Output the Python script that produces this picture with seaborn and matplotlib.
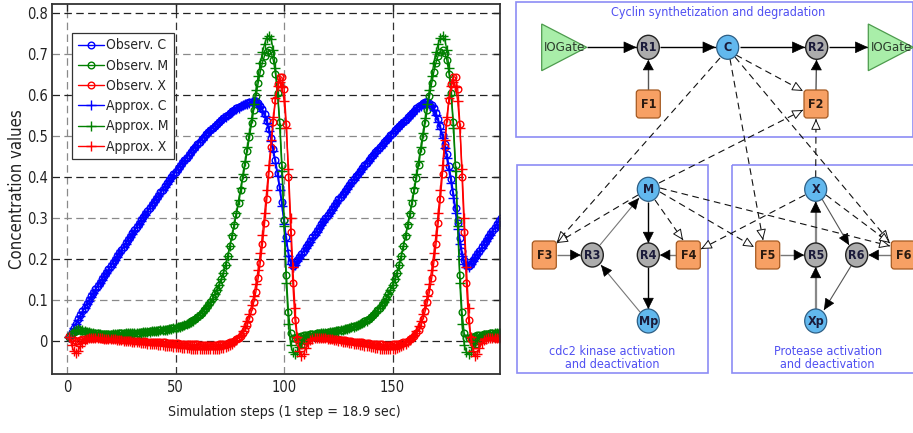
import matplotlib
matplotlib.use("Agg")
import matplotlib.pyplot as plt
import seaborn as sns
import numpy as np
from matplotlib.patches import Ellipse, FancyBboxPatch, Polygon, Rectangle

# ---------------- data ----------------
steps = list(range(1, 201))

C_obs = [0.010, 0.021, 0.032, 0.042, 0.052, 0.062, 0.072, 0.081, 0.090, 0.099,
         0.108, 0.117, 0.126, 0.134, 0.142, 0.150, 0.158, 0.166, 0.174, 0.182,
         0.190, 0.198, 0.206, 0.214, 0.222, 0.230, 0.238, 0.246, 0.254, 0.262,
         0.270, 0.278, 0.286, 0.294, 0.302, 0.309, 0.317, 0.324, 0.332, 0.339,
         0.347, 0.354, 0.362, 0.369, 0.377, 0.384, 0.392, 0.399, 0.406, 0.413,
         0.420, 0.427, 0.434, 0.441, 0.447, 0.454, 0.461, 0.467, 0.474, 0.480,
         0.486, 0.492, 0.498, 0.504, 0.510, 0.515, 0.520, 0.525, 0.530, 0.535,
         0.540, 0.544, 0.548, 0.552, 0.556, 0.560, 0.564, 0.567, 0.570, 0.573,
         0.576, 0.578, 0.580, 0.582, 0.583, 0.584, 0.584, 0.580, 0.574, 0.565,
         0.553, 0.537, 0.517, 0.494, 0.468, 0.440, 0.410, 0.376, 0.338, 0.295,
         0.252, 0.215, 0.192, 0.183, 0.188, 0.196, 0.204, 0.212, 0.220, 0.228,
         0.236, 0.244, 0.252, 0.260, 0.268, 0.276, 0.284, 0.292, 0.300, 0.307,
         0.315, 0.322, 0.330, 0.337, 0.345, 0.352, 0.359, 0.366, 0.373, 0.380,
         0.387, 0.394, 0.401, 0.408, 0.415, 0.422, 0.428, 0.435, 0.441, 0.448,
         0.454, 0.460, 0.466, 0.472, 0.478, 0.484, 0.490, 0.496, 0.502, 0.508,
         0.514, 0.520, 0.525, 0.530, 0.535, 0.540, 0.545, 0.550, 0.556, 0.562,
         0.567, 0.572, 0.576, 0.580, 0.582, 0.583, 0.581, 0.576, 0.568, 0.556,
         0.541, 0.523, 0.503, 0.480, 0.455, 0.427, 0.396, 0.362, 0.325, 0.287,
         0.250, 0.218, 0.196, 0.185, 0.183, 0.188, 0.196, 0.204, 0.212, 0.220,
         0.228, 0.236, 0.244, 0.252, 0.260, 0.268, 0.276, 0.284, 0.292, 0.300]

M_obs = [0.010, 0.016, 0.021, 0.024, 0.025, 0.025, 0.024, 0.023, 0.022, 0.021,
         0.020, 0.019, 0.018, 0.018, 0.017, 0.017, 0.017, 0.017, 0.017, 0.017,
         0.017, 0.017, 0.017, 0.018, 0.018, 0.018, 0.018, 0.019, 0.019, 0.019,
         0.020, 0.020, 0.020, 0.021, 0.021, 0.022, 0.022, 0.023, 0.023, 0.024,
         0.024, 0.025, 0.026, 0.026, 0.027, 0.028, 0.029, 0.030, 0.031, 0.032,
         0.034, 0.035, 0.037, 0.039, 0.041, 0.044, 0.047, 0.050, 0.054, 0.058,
         0.063, 0.068, 0.074, 0.080, 0.087, 0.095, 0.104, 0.114, 0.125, 0.137,
         0.150, 0.166, 0.185, 0.207, 0.231, 0.256, 0.282, 0.309, 0.337, 0.367,
         0.398, 0.430, 0.463, 0.497, 0.531, 0.564, 0.597, 0.628, 0.656, 0.679,
         0.696, 0.706, 0.709, 0.703, 0.685, 0.652, 0.605, 0.535, 0.430, 0.295,
         0.160, 0.070, 0.018, 0.006, 0.006, 0.008, 0.010, 0.012, 0.013, 0.014,
         0.015, 0.016, 0.016, 0.017, 0.018, 0.018, 0.019, 0.019, 0.020, 0.021,
         0.022, 0.022, 0.023, 0.024, 0.025, 0.026, 0.027, 0.029, 0.030, 0.032,
         0.034, 0.035, 0.037, 0.039, 0.041, 0.044, 0.047, 0.050, 0.054, 0.058,
         0.063, 0.068, 0.074, 0.080, 0.087, 0.095, 0.104, 0.114, 0.125, 0.137,
         0.150, 0.166, 0.185, 0.207, 0.231, 0.256, 0.282, 0.309, 0.337, 0.367,
         0.398, 0.430, 0.463, 0.497, 0.531, 0.564, 0.597, 0.628, 0.656, 0.679,
         0.696, 0.706, 0.709, 0.703, 0.685, 0.652, 0.605, 0.535, 0.430, 0.295,
         0.160, 0.070, 0.018, 0.006, 0.006, 0.008, 0.010, 0.012, 0.013, 0.014,
         0.015, 0.016, 0.016, 0.017, 0.018, 0.018, 0.019, 0.019, 0.020, 0.021]

X_obs = [0.012, 0.006, 0.001, -0.001, 0.000, 0.002, 0.004, 0.005, 0.006, 0.006,
         0.006, 0.006, 0.006, 0.006, 0.006, 0.005, 0.005, 0.005, 0.004, 0.004,
         0.004, 0.003, 0.003, 0.003, 0.002, 0.002, 0.002, 0.001, 0.001, 0.001,
         0.000, 0.000, 0.000, -0.001, -0.001, -0.001, -0.002, -0.002, -0.002, -0.003,
         -0.003, -0.003, -0.004, -0.004, -0.004, -0.005, -0.005, -0.005, -0.006, -0.006,
         -0.006, -0.007, -0.007, -0.007, -0.008, -0.008, -0.008, -0.009, -0.009, -0.009,
         -0.010, -0.010, -0.010, -0.010, -0.010, -0.010, -0.010, -0.010, -0.010, -0.009,
         -0.009, -0.008, -0.007, -0.006, -0.004, -0.002, 0.000, 0.003, 0.007, 0.012,
         0.018, 0.027, 0.039, 0.054, 0.072, 0.094, 0.120, 0.152, 0.190, 0.235,
         0.287, 0.345, 0.408, 0.473, 0.535, 0.588, 0.626, 0.645, 0.643, 0.615,
         0.530, 0.400, 0.265, 0.140, 0.050, 0.005, -0.006, -0.010, -0.007, -0.001,
         0.004, 0.007, 0.008, 0.008, 0.008, 0.008, 0.007, 0.007, 0.006, 0.006,
         0.005, 0.005, 0.004, 0.004, 0.003, 0.002, 0.002, 0.001, 0.000, 0.000,
         -0.001, -0.002, -0.002, -0.003, -0.004, -0.004, -0.005, -0.006, -0.006, -0.007,
         -0.007, -0.008, -0.008, -0.009, -0.009, -0.010, -0.010, -0.010, -0.010, -0.009,
         -0.009, -0.008, -0.007, -0.006, -0.004, -0.002, 0.000, 0.003, 0.007, 0.012,
         0.018, 0.027, 0.039, 0.054, 0.072, 0.094, 0.120, 0.152, 0.190, 0.235,
         0.287, 0.345, 0.408, 0.473, 0.535, 0.588, 0.626, 0.645, 0.643, 0.615,
         0.530, 0.400, 0.265, 0.140, 0.050, 0.005, -0.006, -0.010, -0.007, -0.001,
         0.004, 0.007, 0.008, 0.008, 0.008, 0.008, 0.007, 0.007, 0.006, 0.006]

C_apx = [0.010, 0.020, 0.031, 0.041, 0.051, 0.061, 0.071, 0.080, 0.089, 0.098,
         0.107, 0.116, 0.125, 0.133, 0.141, 0.149, 0.157, 0.165, 0.173, 0.181,
         0.189, 0.197, 0.205, 0.213, 0.221, 0.229, 0.237, 0.245, 0.253, 0.261,
         0.269, 0.277, 0.285, 0.293, 0.301, 0.308, 0.316, 0.323, 0.331, 0.338,
         0.346, 0.353, 0.361, 0.368, 0.376, 0.383, 0.391, 0.398, 0.405, 0.412,
         0.419, 0.426, 0.433, 0.440, 0.446, 0.453, 0.460, 0.466, 0.473, 0.479,
         0.485, 0.491, 0.497, 0.503, 0.509, 0.514, 0.519, 0.524, 0.529, 0.534,
         0.539, 0.543, 0.547, 0.551, 0.555, 0.559, 0.563, 0.566, 0.569, 0.572,
         0.575, 0.577, 0.579, 0.581, 0.582, 0.583, 0.582, 0.578, 0.571, 0.561,
         0.548, 0.531, 0.511, 0.488, 0.462, 0.433, 0.402, 0.367, 0.328, 0.285,
         0.243, 0.208, 0.187, 0.180, 0.186, 0.194, 0.202, 0.210, 0.218, 0.226,
         0.234, 0.242, 0.250, 0.258, 0.266, 0.274, 0.282, 0.290, 0.298, 0.305,
         0.313, 0.320, 0.328, 0.335, 0.343, 0.350, 0.357, 0.364, 0.371, 0.378,
         0.385, 0.392, 0.399, 0.406, 0.413, 0.420, 0.426, 0.433, 0.439, 0.446,
         0.452, 0.458, 0.464, 0.470, 0.476, 0.482, 0.488, 0.494, 0.500, 0.506,
         0.512, 0.518, 0.523, 0.528, 0.533, 0.538, 0.543, 0.548, 0.554, 0.560,
         0.565, 0.570, 0.574, 0.578, 0.580, 0.581, 0.579, 0.573, 0.564, 0.551,
         0.535, 0.516, 0.495, 0.471, 0.445, 0.416, 0.384, 0.349, 0.311, 0.272,
         0.236, 0.207, 0.188, 0.180, 0.181, 0.187, 0.195, 0.203, 0.211, 0.219,
         0.227, 0.235, 0.243, 0.251, 0.259, 0.267, 0.275, 0.283, 0.291, 0.299]

M_apx = [0.010, 0.018, 0.024, 0.027, 0.028, 0.027, 0.026, 0.024, 0.022, 0.021,
         0.019, 0.018, 0.017, 0.016, 0.016, 0.015, 0.015, 0.015, 0.015, 0.015,
         0.016, 0.016, 0.016, 0.017, 0.017, 0.017, 0.018, 0.018, 0.018, 0.019,
         0.019, 0.019, 0.020, 0.020, 0.021, 0.021, 0.022, 0.022, 0.023, 0.023,
         0.024, 0.024, 0.025, 0.026, 0.026, 0.027, 0.028, 0.029, 0.030, 0.031,
         0.033, 0.034, 0.036, 0.038, 0.040, 0.043, 0.046, 0.049, 0.053, 0.057,
         0.062, 0.067, 0.073, 0.079, 0.086, 0.094, 0.103, 0.113, 0.124, 0.136,
         0.150, 0.166, 0.185, 0.207, 0.232, 0.258, 0.285, 0.313, 0.343, 0.374,
         0.406, 0.439, 0.473, 0.508, 0.543, 0.578, 0.613, 0.646, 0.677, 0.704,
         0.725, 0.740, 0.745, 0.736, 0.710, 0.665, 0.600, 0.520, 0.415, 0.280,
         0.140, 0.040, -0.010, -0.028, -0.033, -0.027, -0.016, -0.006, 0.002, 0.008,
         0.011, 0.013, 0.014, 0.015, 0.016, 0.017, 0.018, 0.018, 0.019, 0.020,
         0.021, 0.021, 0.022, 0.023, 0.024, 0.025, 0.026, 0.028, 0.029, 0.031,
         0.033, 0.034, 0.036, 0.038, 0.040, 0.043, 0.046, 0.049, 0.053, 0.057,
         0.062, 0.067, 0.073, 0.079, 0.086, 0.094, 0.103, 0.113, 0.124, 0.136,
         0.150, 0.166, 0.185, 0.207, 0.232, 0.258, 0.285, 0.313, 0.343, 0.374,
         0.406, 0.439, 0.473, 0.508, 0.543, 0.578, 0.613, 0.646, 0.677, 0.704,
         0.725, 0.740, 0.745, 0.736, 0.710, 0.665, 0.600, 0.520, 0.415, 0.280,
         0.140, 0.040, -0.010, -0.028, -0.033, -0.027, -0.016, -0.006, 0.002, 0.008,
         0.011, 0.013, 0.014, 0.015, 0.016, 0.017, 0.018, 0.018, 0.019, 0.020]

X_apx = [0.010, -0.010, -0.025, -0.031, -0.025, -0.014, -0.005, 0.001, 0.004, 0.006,
         0.007, 0.007, 0.007, 0.007, 0.006, 0.006, 0.005, 0.005, 0.004, 0.004,
         0.003, 0.003, 0.002, 0.002, 0.001, 0.000, 0.000, -0.001, -0.001, -0.002,
         -0.003, -0.003, -0.004, -0.005, -0.005, -0.006, -0.007, -0.007, -0.008, -0.009,
         -0.009, -0.010, -0.011, -0.011, -0.012, -0.013, -0.013, -0.014, -0.015, -0.015,
         -0.016, -0.016, -0.017, -0.017, -0.018, -0.018, -0.019, -0.019, -0.020, -0.020,
         -0.020, -0.021, -0.021, -0.021, -0.021, -0.021, -0.021, -0.020, -0.020, -0.019,
         -0.018, -0.017, -0.015, -0.013, -0.010, -0.007, -0.003, 0.002, 0.008, 0.015,
         0.024, 0.035, 0.049, 0.066, 0.086, 0.110, 0.139, 0.173, 0.213, 0.259,
         0.311, 0.368, 0.428, 0.489, 0.545, 0.592, 0.623, 0.632, 0.620, 0.585,
         0.520, 0.420, 0.300, 0.180, 0.080, 0.010, -0.025, -0.038, -0.032, -0.018,
         -0.006, 0.002, 0.005, 0.007, 0.007, 0.007, 0.007, 0.006, 0.006, 0.005,
         0.004, 0.003, 0.002, 0.001, 0.000, -0.001, -0.002, -0.003, -0.004, -0.005,
         -0.006, -0.007, -0.008, -0.009, -0.010, -0.011, -0.012, -0.013, -0.014, -0.015,
         -0.016, -0.017, -0.018, -0.019, -0.020, -0.020, -0.021, -0.021, -0.021, -0.020,
         -0.019, -0.018, -0.015, -0.013, -0.010, -0.007, -0.003, 0.002, 0.008, 0.015,
         0.024, 0.035, 0.049, 0.066, 0.086, 0.110, 0.139, 0.173, 0.213, 0.259,
         0.311, 0.368, 0.428, 0.489, 0.545, 0.592, 0.623, 0.632, 0.620, 0.585,
         0.520, 0.420, 0.300, 0.180, 0.080, 0.010, -0.025, -0.038, -0.032, -0.018,
         -0.006, 0.002, 0.005, 0.007, 0.007, 0.007, 0.007, 0.006, 0.006, 0.005]

series_labels = ["Observ. C", "Observ. M", "Observ. X",
                 "Approx. C", "Approx. M", "Approx. X"]
series_values = [C_obs, M_obs, X_obs, C_apx, M_apx, X_apx]
x_ticks = [0, 50, 100, 150]
y_ticks = [0, 0.1, 0.2, 0.3, 0.4, 0.5, 0.6, 0.7, 0.8]
y_tick_labels = ["0", "0.1", "0.2", "0.3", "0.4", "0.5", "0.6", "0.7", "0.8"]

# ---------------- style ----------------
sns.set_theme(style="white")
plt.rcParams['font.family'] = ['DejaVu Sans']
plt.rcParams['font.stretch'] = 'condensed'
COND = dict(family="DejaVu Sans", stretch="condensed")

W, H = 913, 433
fig = plt.figure(figsize=(W / 100, H / 100), dpi=100)
fig.patch.set_facecolor("white")

# diagram canvas in pixel coordinates (drawn first, behind the chart)
dax = fig.add_axes([0, 0, 1, 1])
dax.set_xlim(0, W)
dax.set_ylim(H, 0)
dax.axis("off")
dax.set_facecolor("none")

ax = fig.add_axes([52 / W, 1 - 373.5 / H, 448 / W, 369.5 / H])

colors = ["#0000ff", "#008000", "#ff0000", "#0000ff", "#008000", "#ff0000"]
markers = ["o", "o", "o", "+", "+", "+"]
for lab, vals, col, mk in zip(series_labels, series_values, colors, markers):
    kw = dict(marker=mk, mec=col, mew=1.0)
    if mk == "o":
        kw.update(mfc="none", ms=4.8)
    else:
        kw.update(ms=6.5)
    sns.lineplot(x=steps, y=vals, color=col, lw=1.0, ax=ax, estimator=None,
                 sort=False, label=lab, **kw)

ax.set_xlim(-7, 199.5)
ax.set_ylim(-0.08, 0.822)
ax.set_xticks(x_ticks)
ax.set_yticks(y_ticks)
ax.set_yticklabels(y_tick_labels)
ax.tick_params(direction="in", length=5, width=1.0, top=True, right=True,
               labelsize=10.5, colors="#222222", pad=5)
ax.tick_params(axis="y", pad=3)
for lbl in ax.get_xticklabels() + ax.get_yticklabels():
    lbl.set_fontstretch("condensed")
for s in ax.spines.values():
    s.set_color("#333333")
    s.set_linewidth(1.3)

ax.grid(True, linestyle=(0, (6, 3.5)), linewidth=0.9)
for i, gl in enumerate(ax.get_ygridlines()):
    gl.set_color("#222222" if i % 2 == 0 else "#8a8a8a")
for i, gl in enumerate(ax.get_xgridlines()):
    gl.set_color("#8a8a8a" if i % 2 == 0 else "#333333")

ax.set_xlabel("Simulation steps (1 step = 18.9 sec)", fontsize=10.2, color="#222222", **COND)
ax.set_ylabel("Concentration values", fontsize=12, color="#222222", **COND)
ax.xaxis.set_label_coords(0.518, -0.085)
ax.yaxis.set_label_coords(-0.058, 0.5)

handles = ax.get_lines()[:6]
leg = ax.legend(handles, series_labels, loc="upper left",
                bbox_to_anchor=(0.045, 0.922), borderaxespad=0,
                prop=dict(family="DejaVu Sans", stretch="condensed", size=10),
                frameon=True, fancybox=False, framealpha=1, edgecolor="#333333",
                handlelength=1.9, handletextpad=0.15, labelspacing=0.45,
                borderpad=0.4)
leg.get_frame().set_linewidth(0.9)

# ---------------- diagram ----------------
pos = {
    "R1": (648.3, 47.3), "C": (727.7, 47.3), "R2": (816.7, 47.3),
    "F1": (648.3, 104), "F2": (816, 104),
    "M": (648.3, 189.3), "F3": (544.3, 255), "R3": (592.3, 255),
    "R4": (648.3, 255), "F4": (688.3, 255), "Mp": (648.3, 321),
    "X": (815.7, 189.3), "F5": (767.7, 255), "R5": (815.7, 255),
    "R6": (856.7, 255), "F6": (903.3, 255), "Xp": (815.7, 321),
}
blue_nodes = ["C", "M", "Mp", "X", "Xp"]
gray_nodes = ["R1", "R2", "R3", "R4", "R5", "R6"]
orange_nodes = ["F1", "F2", "F3", "F4", "F5", "F6"]

title_col = "#5050f2"
box_col = "#8c8cf5"
dax.add_patch(Rectangle((515.5, 2), 397, 135, fill=False, ec=box_col, lw=1.2, zorder=1))
dax.add_patch(Rectangle((517, 165), 191.3, 207.7, fill=False, ec=box_col, lw=1.2, zorder=1))
dax.add_patch(Rectangle((732.3, 165), 190, 207.7, fill=False, ec=box_col, lw=1.2, zorder=1))
tkw = dict(ha="center", va="center", fontsize=9, color=title_col, **COND)
dax.text(718, 12.5, "Cyclin synthetization and degradation", **tkw)
dax.text(612, 351.7, "cdc2 kinase activation", **tkw)
dax.text(612, 365, "and deactivation", **tkw)
dax.text(827.7, 351.7, "Protease activation", **tkw)
dax.text(827.7, 365, "and deactivation", **tkw)

# IOGates
for tri, lab in [([(541.7, 24), (541.7, 70.7), (586.7, 47.3)], (565, 47.5)),
                 ([(868.3, 24), (868.3, 70.7), (913.3, 47.3)], (892, 47.5))]:
    dax.add_patch(Polygon(tri, closed=True, fc="#a9eea9", ec="#4d9b4d", lw=0.9, zorder=3))
    dax.text(lab[0], lab[1], "IOGate", ha="center", va="center", fontsize=9.5,
             color="#2c3c2c", zorder=4, **COND)


def unit(p, q):
    d = np.array(q, float) - np.array(p, float)
    return d / np.hypot(*d)


def solid(p, q, color="black", lw=1.0, hl=0.7, hw=0.32, head="black"):
    dax.plot([p[0], q[0]], [p[1], q[1]], color=color, lw=lw, zorder=2,
             solid_capstyle="butt")
    u = unit(p, q)
    s = np.array(q) - u * 3
    dax.annotate("", xy=q, xytext=tuple(s),
                 arrowprops=dict(arrowstyle=f"-|>,head_length={hl},head_width={hw}",
                                 color=head, lw=0.5, shrinkA=0, shrinkB=0), zorder=2)


def dashed(p, q):
    dax.plot([p[0], q[0]], [p[1], q[1]], color="#111111", lw=0.8,
             ls=(0, (6, 4)), zorder=2)
    u = unit(p, q)
    s = np.array(q) - u * 2
    dax.annotate("", xy=q, xytext=tuple(s),
                 arrowprops=dict(arrowstyle="-|>,head_length=0.55,head_width=0.25",
                                 fc="white", ec="#111111", lw=0.7,
                                 shrinkA=0, shrinkB=0), zorder=2)


# solid reaction arcs
solid((587, 47.3), (636.5, 47.3))
solid((660, 47.3), (715.5, 47.3))
solid((740, 47.3), (805, 47.3))
solid((828.5, 47.3), (868, 47.3))
solid((648.3, 90), (648.3, 60), color="#555555", hl=0.55, hw=0.3)
solid((816, 90), (816.5, 60), color="#555555", hl=0.55, hw=0.3)
solid((556.5, 255), (580.5, 255), color="#777777", hl=0.55, hw=0.3)
solid((600, 245), (639, 198), color="#777777", lw=0.8, hl=0.6, hw=0.28)
solid((648.3, 201.5), (648.3, 243), hl=0.6, hw=0.3)
solid((676, 255), (660, 255), color="#777777", hl=0.55, hw=0.3)
solid((648.3, 267), (648.3, 309), hl=0.6, hw=0.3)
solid((640, 312), (601, 265), color="#777777", lw=0.8, hl=0.6, hw=0.28)
solid((780, 255), (804, 255), color="#777777", hl=0.55, hw=0.3)
solid((815.7, 243), (815.7, 201.5), color="#888888", lw=1.6, hl=0.6, hw=0.3)
solid((815.7, 309), (815.7, 267), color="#888888", lw=1.6, hl=0.6, hw=0.3)
solid((822, 199), (849, 245), color="#555555", lw=0.8, hl=0.6, hw=0.28)
solid((851, 266), (824, 310), color="#555555", lw=0.8, hl=0.6, hw=0.28)
solid((891, 255), (868.5, 255), color="#777777", hl=0.55, hw=0.3)

# dashed modifier arcs
dashed((736, 55), (803, 91))
dashed((659, 183), (803, 110))
dashed((815.7, 177), (816, 119))
dashed((720, 58), (557, 242))
dashed((638, 195), (557, 243))
dashed((730, 59), (763, 240))
dashed((660, 192), (754, 247))
dashed((735, 57), (889, 241))
dashed((660, 188), (890, 246))
dashed((826, 195), (890, 243))
dashed((655, 200), (683, 240))
dashed((805, 195), (701, 249))

# nodes
nkw = dict(ha="center", va="center", fontsize=9, fontweight="bold", zorder=4, **COND)
for n in blue_nodes:
    x, y = pos[n]
    dax.add_patch(Ellipse((x, y), 22, 24, fc="#62b8ee", ec="#2e5f85", lw=0.9, zorder=3))
    dax.text(x, y + 0.5, n, color="#1b1b3a", **nkw)
for n in gray_nodes:
    x, y = pos[n]
    dax.add_patch(Ellipse((x, y), 22, 24, fc="#acacac", ec="#222222", lw=1.0, zorder=3))
    dax.text(x, y + 0.5, n, color="#1b1b3a", **nkw)
for n in orange_nodes:
    x, y = pos[n]
    dax.add_patch(FancyBboxPatch((x - 12, y - 14), 24, 28,
                                 boxstyle="round,pad=0,rounding_size=3",
                                 fc="#f7a064", ec="#a55a22", lw=0.9, zorder=3))
    dax.text(x, y + 0.5, n, color="#2a1a10", **nkw)

fig.savefig("out.png", dpi=100)
